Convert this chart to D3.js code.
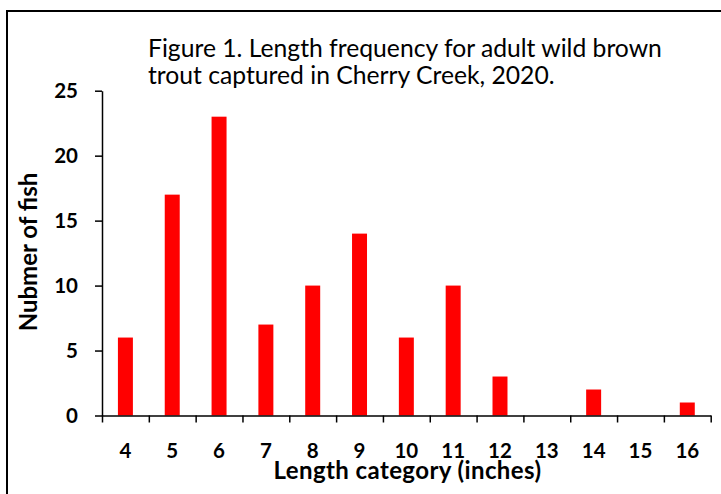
<!DOCTYPE html>
<html>
<head>
<meta charset="utf-8">
<script src="https://cdn.jsdelivr.net/npm/d3@7"></script>
<style>
  body { margin: 0; background: #fff; }
  svg { display: block; }
  text { font-family: Lato, "Open Sans", sans-serif; fill: #000; }
</style>
</head>
<body>
<svg id="chart" width="721" height="494"></svg>
<script>
/*--- data ---*/
const categories = ["4", "5", "6", "7", "8", "9", "10", "11", "12", "13", "14", "15", "16"];
const counts = [6, 17, 23, 7, 10, 14, 6, 10, 3, 0, 2, 0, 1];
const yTicks = [0, 5, 10, 15, 20, 25];
const titleLines = ["Figure 1. Length frequency for adult wild brown", "trout captured in Cherry Creek, 2020."];

const svg = d3.select("#chart");

svg.append("rect").attr("width", 721).attr("height", 494).attr("fill", "#fff");

// frame (right and bottom edges fall outside the picture)
svg.append("rect")
    .attr("x", 7).attr("y", 11)
    .attr("width", 730).attr("height", 500)
    .attr("fill", "none").attr("stroke", "#000").attr("stroke-width", 2);

/*--- scales ---*/
const plotLeft = 102, plotRight = 710.7, plotTop = 90.7, plotBottom = 415.5;

const x = d3.scaleBand().domain(categories).range([plotLeft, plotRight]).padding(0);
const xEdge = d3.scaleLinear().domain([0, categories.length]).range([plotLeft, plotRight]);
const y = d3.scaleLinear().domain([0, 25]).range([plotBottom, plotTop]);

const barW = x.step() * 0.32;

/*--- bars ---*/
svg.selectAll("rect.bar")
    .data(counts)
    .join("rect")
    .attr("class", "bar")
    .attr("x", (d, i) => x(categories[i]) + (x.bandwidth() - barW) / 2)
    .attr("y", d => y(d))
    .attr("width", barW)
    .attr("height", d => y(0) - y(d))
    .attr("fill", "#ff0000");

/*--- y axis ---*/
const yAxis = svg.append("g")
    .attr("transform", `translate(${plotLeft},0)`)
    .call(d3.axisLeft(y).tickValues(yTicks).tickSize(7).tickPadding(17).tickSizeOuter(0));
yAxis.select(".domain").attr("stroke-width", 1.5);
yAxis.selectAll(".tick line").attr("stroke-width", 1.5);
yAxis.selectAll(".tick text")
    .attr("font-size", 20.5).attr("font-weight", "bold")
    .attr("font-family", "Lato, sans-serif");

/*--- x axis: ticks on category edges, labels in the middle ---*/
const xTicksG = svg.append("g")
    .attr("transform", `translate(0,${plotBottom})`)
    .call(d3.axisBottom(xEdge).ticks(categories.length).tickSize(7).tickFormat("").tickSizeOuter(0));
xTicksG.select(".domain").attr("stroke-width", 1.5);
xTicksG.selectAll(".tick line").attr("stroke-width", 1.5);

const xLabels = svg.append("g")
    .attr("transform", `translate(0,${plotBottom})`)
    .call(d3.axisBottom(x).tickSize(0));
xLabels.select(".domain").remove();
xLabels.selectAll(".tick text")
    .attr("y", 42.5).attr("dy", null)
    .attr("font-size", 20.5).attr("font-weight", "bold")
    .attr("font-family", "Lato, sans-serif");

/*--- axis titles ---*/
svg.append("text")
    .attr("x", 407.5).attr("y", 479)
    .attr("text-anchor", "middle")
    .attr("font-size", 24).attr("font-weight", "bold")
    .attr("letter-spacing", 0.4)
    .text("Length category (inches)");

svg.append("text")
    .attr("transform", "translate(37,252) rotate(-90)")
    .attr("text-anchor", "middle")
    .attr("font-size", 24).attr("font-weight", "bold")
    .text("Nubmer of fish");

/*--- title ---*/
svg.append("g").selectAll("text")
    .data(titleLines)
    .join("text")
    .attr("x", 148)
    .attr("y", (d, i) => 57 + i * 27)
    .attr("font-size", 24.7)
    .text(d => d);
</script>
</body>
</html>
